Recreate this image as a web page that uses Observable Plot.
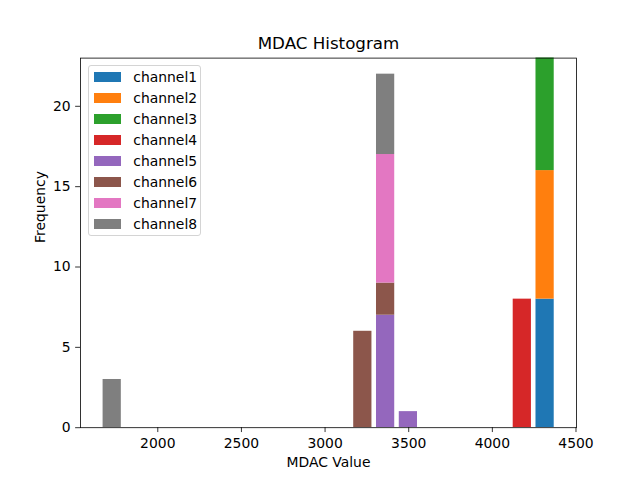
<!DOCTYPE html>
<html><head><meta charset="utf-8">
<script src="https://cdn.jsdelivr.net/npm/d3@7"></script>
<script src="https://cdn.jsdelivr.net/npm/@observablehq/plot@0.6"></script>
<style>
body{margin:0;background:#fff;}
#wrap{position:relative;width:640px;height:480px;font-family:"DejaVu Sans",sans-serif;}
#legend{position:absolute;left:87.7px;top:65px;width:111.6px;height:168.7px;border:1px solid #d4d4d4;border-radius:3px;background:rgba(255,255,255,0.8);font-size:13.9px;color:#000;}
.sw{position:absolute;left:5.6px;width:26.7px;height:9.7px;}
.lb{position:absolute;left:44.6px;line-height:14px;white-space:nowrap;}
</style></head><body><div id="wrap"></div>
<script>
const channels = ["channel1","channel2","channel3","channel4","channel5","channel6","channel7","channel8"];
const colors = ["#1f77b4","#ff7f0e","#2ca02c","#d62728","#9467bd","#8c564b","#e377c2","#7f7f7f"];
// left edges of the non-empty histogram bins
const binStart = [1659.4, 3157.6, 3293.8, 3430.0, 4111.0, 4247.2];
const binWidth = 136.2;
const rwidth = 0.8;
// counts per bin for each channel
const channel1 = [0,0,0,0,0,8];
const channel2 = [0,0,0,0,0,8];
const channel3 = [0,0,0,0,0,8];
const channel4 = [0,0,0,0,8,0];
const channel5 = [0,0,7,1,0,0];
const channel6 = [0,6,2,0,0,0];
const channel7 = [0,0,8,0,0,0];
const channel8 = [3,0,5,0,0,0];
const series = [channel1,channel2,channel3,channel4,channel5,channel6,channel7,channel8];
const xTicks = [2000,2500,3000,3500,4000,4500];
const yTicks = [0,5,10,15,20];

const rows = [];
binStart.forEach((s, i) => {
  let cum = 0;
  series.forEach((arr, c) => {
    const v = arr[i];
    if (v > 0) {
      rows.push({channel: channels[c], x1: s + binWidth*(1-rwidth)/2, x2: s + binWidth*(1+rwidth)/2, y1: cum, y2: cum + v});
      cum += v;
    }
  });
});

const chart = Plot.plot({
  width: 640, height: 480,
  marginLeft: 80, marginRight: 64, marginTop: 57.6, marginBottom: 52.8,
  style: {fontFamily: "DejaVu Sans", fontSize: "13.9px", color: "black", background: "white"},
  x: {domain: [1538, 4503]},
  y: {domain: [0, 23]},
  color: {domain: channels, range: colors},
  marks: [
    Plot.rect(rows, {x1: "x1", x2: "x2", y1: "y1", y2: "y2", fill: "channel", clip: true}),
    Plot.frame({stroke: "black", strokeWidth: 0.8}),
    Plot.axisX({ticks: xTicks, tickSize: 4.86, tickPadding: 6, label: null, tickFormat: d => String(d), strokeWidth: 0.8}),
    Plot.axisY({ticks: yTicks, tickSize: 4.86, tickPadding: 5, label: null, tickFormat: d => String(d), strokeWidth: 0.8}),
    Plot.text(["MDAC Histogram"], {text: d => d, frameAnchor: "top", dy: -14.6, lineAnchor: "middle", fontSize: 16.7}),
    Plot.text(["MDAC Value"], {text: d => d, frameAnchor: "bottom", dy: 34.5, lineAnchor: "middle"}),
    Plot.text(["Frequency"], {text: d => d, frameAnchor: "left", dx: -40, rotate: -90, lineAnchor: "middle"})
  ]
});
const wrap = document.getElementById("wrap");
wrap.appendChild(chart);

const legend = document.createElement("div");
legend.id = "legend";
channels.forEach((name, i) => {
  const cy = 11 + 21 * i;
  const sw = document.createElement("div");
  sw.className = "sw";
  sw.style.top = (cy - 4.85) + "px";
  sw.style.background = colors[i];
  legend.appendChild(sw);
  const lb = document.createElement("div");
  lb.className = "lb";
  lb.style.top = (cy - 7.5) + "px";
  lb.textContent = name;
  legend.appendChild(lb);
});
wrap.appendChild(legend);
</script>
</body></html>
